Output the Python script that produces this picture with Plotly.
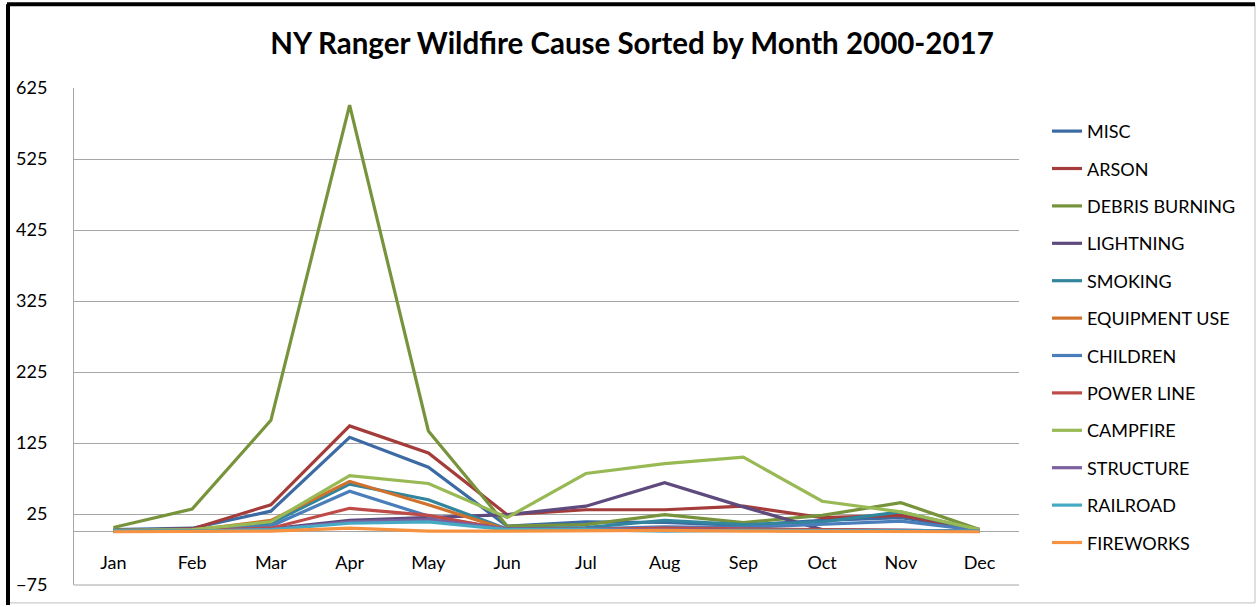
import plotly.graph_objects as go

months = ["Jan", "Feb", "Mar", "Apr", "May", "Jun", "Jul", "Aug", "Sep", "Oct", "Nov", "Dec"]

misc = [3, 5, 29, 133, 91, 8, 14, 13, 9, 16, 20, 3]
arson = [2, 4, 38, 149, 111, 24, 31, 31, 36, 20, 23, 3]
debris_burning = [6, 32, 157, 601, 142, 8, 10, 24, 13, 23, 41, 3]
lightning = [1, 2, 4, 16, 20, 24, 36, 69, 35, 3, 2, 1]
smoking = [1, 2, 12, 67, 45, 4, 6, 16, 10, 14, 28, 2]
equipment_use = [1, 2, 16, 71, 38, 3, 4, 4, 3, 2, 2, 1]
children = [2, 3, 8, 57, 22, 3, 4, 7, 6, 10, 15, 2]
power_line = [1, 2, 5, 33, 23, 3, 3, 5, 4, 3, 3, 1]
campfire = [2, 3, 14, 79, 68, 20, 82, 96, 105, 43, 28, 3]
structure = [1, 1, 3, 14, 17, 4, 3, 3, 2, 1, 2, 1]
railroad = [1, 1, 3, 12, 14, 3, 3, 1, 2, 2, 2, 1]
fireworks = [0, 0, 1, 5, 1, 1, 2, 2, 1, 1, 1, 0]

series_names = ["MISC", "ARSON", "DEBRIS BURNING", "LIGHTNING", "SMOKING", "EQUIPMENT USE",
                "CHILDREN", "POWER LINE", "CAMPFIRE", "STRUCTURE", "RAILROAD", "FIREWORKS"]
series_values = [misc, arson, debris_burning, lightning, smoking, equipment_use,
                 children, power_line, campfire, structure, railroad, fireworks]
colors = ["#3C6AA3", "#A33C3A", "#77933C", "#5E4A7C", "#31859C", "#D0722C",
          "#4A7EBB", "#BE4B48", "#98B954", "#7D60A0", "#46AAC5", "#F69240"]

y_ticks = [-75, 25, 125, 225, 325, 425, 525, 625]

FONT = "Lato, 'Open Sans', sans-serif"

fig = go.Figure()
for i, (name, vals) in enumerate(zip(series_names, series_values)):
    fig.add_trace(go.Scatter(
        x=months, y=vals, mode="lines", name=name,
        line=dict(color=colors[i], width=3.2),
        legendgroup="g%d" % i,
    ))

W, H = 1258, 607
L, R, T, B = 74, 1019, 88, 587
pw, ph = R - L, B - T


def px_x(x):
    return (x - L) / pw


def px_y(y):
    return (B - y) / ph


fig.update_layout(
    width=W, height=H,
    margin=dict(l=L, r=W - R, t=T, b=H - B, pad=0),
    paper_bgcolor="white", plot_bgcolor="white",
    font=dict(family=FONT, size=18, color="#000000"),
    title=dict(text="<b>NY Ranger Wildfire Cause Sorted by Month 2000-2017</b>",
               x=632 / W, xanchor="center", y=1 - 44 / H, yanchor="middle",
               font=dict(family=FONT, size=29.5, color="#000000")),
    showlegend=True,
    legend=dict(x=px_x(1047), xanchor="left", y=px_y(113), yanchor="top",
                font=dict(family=FONT, size=18, color="#000000"),
                tracegroupgap=11, itemwidth=30, bgcolor="rgba(0,0,0,0)"),
    xaxis=dict(type="category", anchor="free", position=px_y(534),
               showline=False, ticks="", showgrid=False, zeroline=False,
               tickfont=dict(family=FONT, size=18), ticklabelstandoff=18,
               range=[-0.5, 11.5]),
    yaxis=dict(range=[-75, 625], tickvals=y_ticks, showgrid=True,
               gridcolor="#A6A6A6", gridwidth=1,
               zeroline=True, zerolinecolor="#A6A6A6", zerolinewidth=1,
               showline=True, linecolor="#A6A6A6", linewidth=1,
               ticks="", ticklabelstandoff=22,
               tickfont=dict(family=FONT, size=18)),
    shapes=[
        dict(type="rect", xref="paper", yref="paper",
             x0=px_x(7), x1=px_x(1255), y0=px_y(605), y1=px_y(4),
             line=dict(color="#BFBFBF", width=1), layer="below"),
        dict(type="line", xref="paper", yref="paper",
             x0=px_x(7), x1=px_x(1255), y0=px_y(4), y1=px_y(4),
             line=dict(color="#000000", width=4)),
        dict(type="line", xref="paper", yref="paper",
             x0=px_x(8), x1=px_x(8), y0=px_y(4), y1=px_y(607),
             line=dict(color="#000000", width=4)),
        dict(type="line", xref="paper", yref="paper",
             x0=0, x1=1, y0=0, y1=0,
             line=dict(color="#A6A6A6", width=1)),
    ],
)

fig.write_html("out.html", config={"displayModeBar": False},
               post_script="document.body.style.margin='0px';")
